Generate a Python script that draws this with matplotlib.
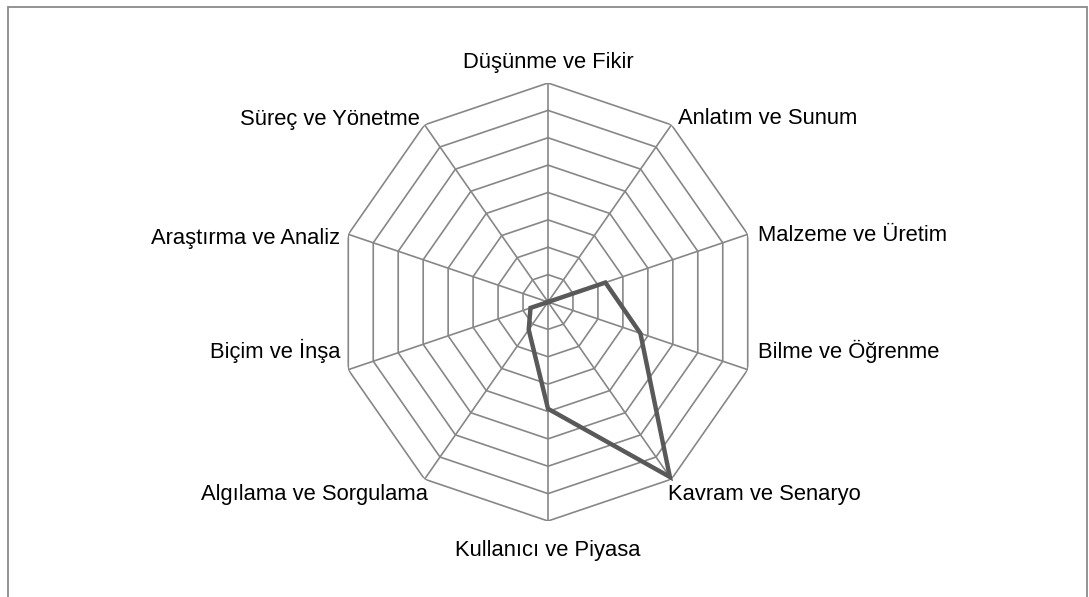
import numpy as np
import matplotlib
matplotlib.use("Agg")
import matplotlib.pyplot as plt
from matplotlib.patches import Rectangle

plt.rcParams["font.family"] = ["Liberation Sans", "DejaVu Sans"]

categories = [
    "Düşünme ve Fikir", "Anlatım ve Sunum", "Malzeme ve Üretim",
    "Bilme ve Öğrenme", "Kavram ve Senaryo", "Kullanıcı ve Piyasa",
    "Algılama ve Sorgulama", "Biçim ve İnşa", "Araştırma ve Analiz",
    "Süreç ve Yönetme",
]
values = [0, 0, 2.3, 3.7, 7.9, 3.9, 1.25, 0.7, 0, 0]
rings = [1, 2, 3, 4, 5, 6, 7, 8]

# label offsets in pixels from each outer vertex (x right, y up) and alignment
label_offsets = [(0, 15), (7, 1), (10, -7), (10, 12), (-3, -21),
                 (0, -35), (3, -21), (-8, 12), (-8, -10), (-5, 0)]
label_ha = ["center", "left", "left", "left", "left",
            "center", "right", "right", "right", "right"]

GRID = "#878787"
LINE = "#595959"

fig = plt.figure(figsize=(10.89, 5.97), dpi=100)
ax = fig.add_axes([338 / 1089, 1 - 521 / 597, 420 / 1089, 438 / 597],
                  projection="polar")
ax.set_aspect("auto")
ax.set_theta_zero_location("N")
ax.set_theta_direction(-1)
ax.set_ylim(0, max(rings))
ax.grid(False)
ax.set_xticks([])
ax.set_yticks([])
ax.spines["polar"].set_visible(False)
ax.patch.set_alpha(0)

n = len(categories)
theta = np.arange(n) * 2 * np.pi / n
theta_closed = np.append(theta, theta[0])

# decagon rings and spokes
for r in rings:
    ax.plot(theta_closed, [r] * (n + 1), color=GRID, lw=1.2, zorder=1)
for t in theta:
    ax.plot([t, t], [0, max(rings)], color=GRID, lw=1.2, zorder=1)

ax.plot(theta_closed, values + values[:1], color=LINE, lw=3.2,
        solid_joinstyle="miter", zorder=3, clip_on=False)

for t, lab, off, ha in zip(theta, categories, label_offsets, label_ha):
    ax.annotate(lab, xy=(t, max(rings)), xytext=off, textcoords="offset pixels",
                ha=ha, va="baseline", fontsize=15.8, color="black",
                annotation_clip=False)

# outer chart border
fig.add_artist(Rectangle((8 / 1089, -0.1), 1079 / 1089, 1.1 - 7 / 597,
                         transform=fig.transFigure, fill=False,
                         edgecolor="#8a8a8a", lw=1.3))

fig.savefig("out.png", dpi=100)
